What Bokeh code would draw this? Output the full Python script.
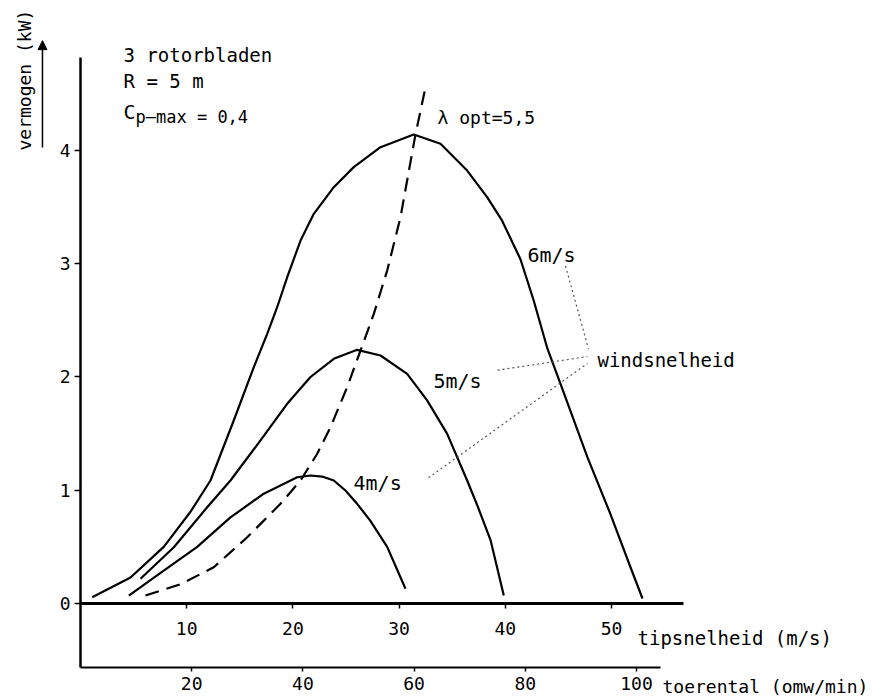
import math
from bokeh.plotting import figure
from bokeh.models import LinearAxis, Range1d, FixedTicker, Label, Arrow, NormalHead
from bokeh.embed import file_html
from bokeh.resources import INLINE

# ---------------- data ----------------
# tip speed (m/s) vs power (kW)
tip_6 = [1.1, 4.71, 7.84, 10.36, 12.24, 14.43, 16.32, 17.58, 18.52, 19.46, 20.72, 21.97,
         23.85, 25.73, 28.25, 31.38, 33.9, 36.41, 38.29, 39.7, 41.43, 42.66, 43.97, 45.2,
         47.74, 49.9, 51.79, 52.92]
pow_6 = [0.056, 0.23, 0.50, 0.81, 1.086, 1.616, 2.087, 2.381, 2.616, 2.88, 3.205, 3.441,
         3.676, 3.853, 4.029, 4.141, 4.059, 3.823, 3.588, 3.38, 3.04, 2.68, 2.25, 1.94,
         1.29, 0.79, 0.32, 0.044]

tip_5 = [5.65, 8.79, 11.93, 14.12, 16.95, 19.46, 21.66, 23.85, 26.05, 28.25, 30.76, 32.64,
         34.53, 36.41, 37.35, 38.61, 39.86]
pow_5 = [0.218, 0.497, 0.85, 1.086, 1.44, 1.763, 2.0, 2.161, 2.24, 2.19, 2.028, 1.793,
         1.498, 1.086, 0.87, 0.56, 0.07]

tip_4 = [4.55, 7.84, 10.99, 14.12, 17.26, 20.4, 21.66, 22.76, 23.85, 24.95, 26.05, 27.3,
         28.88, 30.6]
pow_4 = [0.07, 0.29, 0.50, 0.76, 0.97, 1.115, 1.13, 1.121, 1.086, 0.998, 0.88, 0.73,
         0.50, 0.13]

tip_opt = [6.12, 9.42, 12.55, 15.7, 18.83, 20.72, 22.29, 23.54, 25.11, 26.37, 27.62,
           28.88, 30.13, 31.54, 32.49]
pow_opt = [0.07, 0.17, 0.32, 0.585, 0.88, 1.086, 1.322, 1.557, 1.91, 2.234, 2.558,
           2.94, 3.41, 4.14, 4.56]

power_ticks = [0, 1, 2, 3, 4]
tip_ticks = [10, 20, 30, 40, 50]
rpm_ticks = [20, 40, 60, 80, 100]
rotor_radius = 5.0  # m
rpm_per_tip = 60.0 / (2 * math.pi * rotor_radius)

# leader lines from the wind-speed labels to "windsnelheid"
lead_6_x = [45.67, 47.83]
lead_6_y = [2.98, 2.25]
lead_5_x = [39.27, 47.74]
lead_5_y = [2.06, 2.18]
lead_4_x = [32.77, 47.74]
lead_4_y = [1.11, 2.12]

# ---------------- figure ----------------
X0, X1 = -7.533, 76.65
Y0, Y1 = -0.8477, 5.3245
Y_RPM_AXIS = -0.5651

p = figure(width=894, height=699, x_range=Range1d(X0, X1), y_range=Range1d(Y0, Y1),
           x_axis_type=None, y_axis_type=None, toolbar_location=None,
           output_backend="svg", min_border=0, outline_line_color=None,
           background_fill_color="white", border_fill_color="white")
p.extra_x_ranges = {"rpm": Range1d(X0 * rpm_per_tip, X1 * rpm_per_tip)}

FONT = "DejaVu Sans Mono"

def style_axis(ax, tick_out, standoff, lw):
    ax.major_tick_out = tick_out
    ax.major_tick_in = 0
    ax.minor_tick_line_color = None
    ax.axis_line_width = lw
    ax.major_tick_line_width = 1.5
    ax.major_label_text_font = FONT
    ax.major_label_text_font_size = "18px"
    ax.major_label_text_color = "black"
    ax.major_label_standoff = standoff

yax = LinearAxis(ticker=FixedTicker(ticks=power_ticks), fixed_location=0,
                 bounds=(Y_RPM_AXIS, 4.82))
style_axis(yax, 6, 4, 2.5)
p.add_layout(yax, "left")

tax = LinearAxis(ticker=FixedTicker(ticks=tip_ticks), fixed_location=0, bounds=(0, 56.8))
style_axis(tax, 5, 14, 3)
p.add_layout(tax, "below")

rax = LinearAxis(x_range_name="rpm", ticker=FixedTicker(ticks=rpm_ticks),
                 fixed_location=Y_RPM_AXIS, bounds=(0, 104.3))
style_axis(rax, 4, 6, 2)
p.add_layout(rax, "below")

# curves
for xs, ys in [(tip_6, pow_6), (tip_5, pow_5), (tip_4, pow_4)]:
    p.line(xs, ys, line_color="black", line_width=2.2, line_join="round")
p.line(tip_opt, pow_opt, line_color="black", line_width=2.2, line_dash="14 8")

for xs, ys in [(lead_6_x, lead_6_y), (lead_5_x, lead_5_y), (lead_4_x, lead_4_y)]:
    p.line(xs, ys, line_color="#555555", line_width=1.2, line_dash="2 3")

def lab(text, x, y, size="19px", **kw):
    p.add_layout(Label(x=x, y=y, text=text, text_font=FONT, text_font_size=size,
                       text_color="black", text_baseline="alphabetic", **kw))

lab("λ opt=5,5", 33.62, 4.29, "18px")
lab("6m/s", 42.09, 3.073, "20px")
lab("5m/s", 33.24, 1.969, "20px")
lab("4m/s", 25.71, 1.068, "20px")
lab("windsnelheid", 48.68, 2.146, "19px")
lab("3 rotorbladen", 4.05, 4.839, "19px")
lab("R = 5 m", 4.05, 4.618, "19px")
lab("C", 4.05, 4.344, "20px")
lab("p–max = 0,4", 5.18, 4.30, "17px")
lab("tipsnelheid (m/s)", 52.45, -0.309, "19px")
lab("toerental (omw/min)", 54.8, -0.735, "18px")
lab("vermogen (kW)", -5.27, 4.0, "18px", angle=math.pi / 2, text_align="left")

p.add_layout(Arrow(end=NormalHead(size=9, fill_color="black", line_color="black"),
                   x_start=-3.58, y_start=4.027, x_end=-3.58, y_end=4.97,
                   line_width=1.5, line_color="black"))

open("out.html", "w").write(file_html(p, INLINE))
